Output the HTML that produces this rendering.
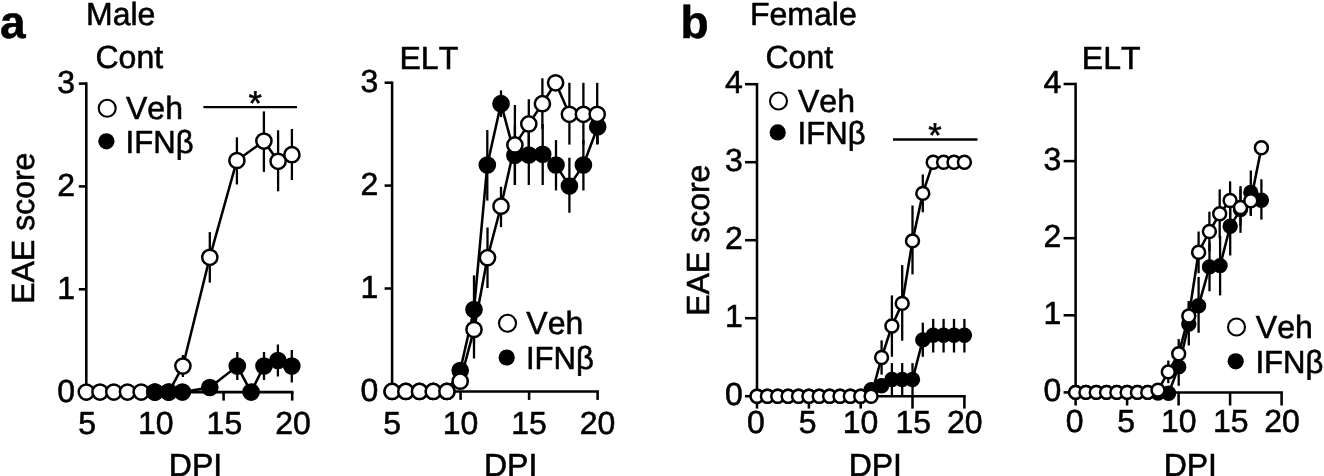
<!DOCTYPE html>
<html lang="en">
<head>
<meta charset="utf-8">
<title>EAE score figure</title>
<style>
html,body{margin:0;padding:0;background:#fff;}
body{width:1324px;height:476px;overflow:hidden;}
svg{display:block;will-change:transform;transform:translateZ(0);}
svg text{font-family:"Liberation Sans","DejaVu Sans",sans-serif;fill:#000;text-rendering:geometricPrecision;font-kerning:none;stroke:#000;stroke-width:0.55px;}
</style>
</head>
<body>
<svg width="1324" height="476" viewBox="0 0 1324 476">
<rect x="0" y="0" width="1324" height="476" fill="#fff"/>
<text x="0.0" y="38.0" font-size="46" text-anchor="start" font-weight="bold" >a</text>
<text x="680.5" y="38.0" font-size="46" text-anchor="start" font-weight="bold" >b</text>
<text x="86.0" y="24.7" font-size="32" text-anchor="start" font-weight="normal" >Male</text>
<text x="95.5" y="68.1" font-size="32" text-anchor="start" font-weight="normal" >Cont</text>
<text x="399.5" y="68.6" font-size="32" text-anchor="start" font-weight="normal" >ELT</text>
<text x="750.0" y="24.5" font-size="32" text-anchor="start" font-weight="normal" >Female</text>
<text x="765.5" y="67.6" font-size="32" text-anchor="start" font-weight="normal" >Cont</text>
<text x="1081.8" y="68.6" font-size="32" text-anchor="start" font-weight="normal" >ELT</text>
<text transform="translate(33.6,228.2) rotate(-90)" font-size="32" text-anchor="middle">EAE score</text>
<text transform="translate(709.1,240.2) rotate(-90)" font-size="32" text-anchor="middle">EAE score</text>
<text x="195.5" y="475.6" font-size="32" text-anchor="middle" font-weight="normal" >DPI</text>
<text x="510.6" y="475.6" font-size="32" text-anchor="middle" font-weight="normal" >DPI</text>
<text x="875.3" y="475.6" font-size="32" text-anchor="middle" font-weight="normal" >DPI</text>
<text x="1190.3" y="475.6" font-size="32" text-anchor="middle" font-weight="normal" >DPI</text>
<line x1="86.3" y1="82.3" x2="86.3" y2="393.4" stroke="#000" stroke-width="2.55"/>
<line x1="86.3" y1="392.1" x2="293.5" y2="392.1" stroke="#000" stroke-width="2.55"/>
<line x1="78.8" y1="392.1" x2="86.3" y2="392.1" stroke="#000" stroke-width="2.55"/>
<text x="75.0" y="401.7" font-size="32" text-anchor="end" font-weight="normal" >0</text>
<line x1="78.8" y1="289.3" x2="86.3" y2="289.3" stroke="#000" stroke-width="2.55"/>
<text x="75.0" y="298.9" font-size="32" text-anchor="end" font-weight="normal" >1</text>
<line x1="78.8" y1="186.4" x2="86.3" y2="186.4" stroke="#000" stroke-width="2.55"/>
<text x="75.0" y="196.0" font-size="32" text-anchor="end" font-weight="normal" >2</text>
<line x1="78.8" y1="83.6" x2="86.3" y2="83.6" stroke="#000" stroke-width="2.55"/>
<text x="75.0" y="93.2" font-size="32" text-anchor="end" font-weight="normal" >3</text>
<line x1="86.3" y1="392.1" x2="86.3" y2="400.6" stroke="#000" stroke-width="2.55"/>
<text x="87.1" y="434.1" font-size="32" text-anchor="middle" font-weight="normal" >5</text>
<line x1="154.9" y1="392.1" x2="154.9" y2="400.6" stroke="#000" stroke-width="2.55"/>
<text x="155.8" y="434.1" font-size="32" text-anchor="middle" font-weight="normal" >10</text>
<line x1="223.6" y1="392.1" x2="223.6" y2="400.6" stroke="#000" stroke-width="2.55"/>
<text x="224.4" y="434.1" font-size="32" text-anchor="middle" font-weight="normal" >15</text>
<line x1="292.2" y1="392.1" x2="292.2" y2="400.6" stroke="#000" stroke-width="2.55"/>
<text x="293.1" y="434.1" font-size="32" text-anchor="middle" font-weight="normal" >20</text>
<line x1="182.9" y1="355.0" x2="182.9" y2="377.0" stroke="#000" stroke-width="2.3"/>
<line x1="209.8" y1="232.1" x2="209.8" y2="282.6" stroke="#000" stroke-width="2.3"/>
<line x1="236.9" y1="137.3" x2="236.9" y2="184.5" stroke="#000" stroke-width="2.3"/>
<line x1="263.9" y1="111.4" x2="263.9" y2="171.9" stroke="#000" stroke-width="2.3"/>
<line x1="278.1" y1="130.3" x2="278.1" y2="191.3" stroke="#000" stroke-width="2.3"/>
<line x1="291.9" y1="129.0" x2="291.9" y2="180.0" stroke="#000" stroke-width="2.3"/>
<polyline points="86.3,392.1 100.0,392.1 113.8,392.1 127.5,392.1 141.2,392.1 154.9,392.1 168.7,392.1 182.9,366.1 209.8,257.3 236.9,160.5 263.9,141.1 278.1,161.3 291.9,154.7" fill="none" stroke="#000" stroke-width="2.55"/>
<circle cx="86.3" cy="392.1" r="7.6" fill="#fff" stroke="#000" stroke-width="2.5"/>
<circle cx="100.0" cy="392.1" r="7.6" fill="#fff" stroke="#000" stroke-width="2.5"/>
<circle cx="113.8" cy="392.1" r="7.6" fill="#fff" stroke="#000" stroke-width="2.5"/>
<circle cx="127.5" cy="392.1" r="7.6" fill="#fff" stroke="#000" stroke-width="2.5"/>
<circle cx="141.2" cy="392.1" r="7.6" fill="#fff" stroke="#000" stroke-width="2.5"/>
<circle cx="154.9" cy="392.1" r="7.6" fill="#fff" stroke="#000" stroke-width="2.5"/>
<circle cx="168.7" cy="392.1" r="7.6" fill="#fff" stroke="#000" stroke-width="2.5"/>
<circle cx="182.9" cy="366.1" r="7.6" fill="#fff" stroke="#000" stroke-width="2.5"/>
<circle cx="209.8" cy="257.3" r="7.6" fill="#fff" stroke="#000" stroke-width="2.5"/>
<circle cx="236.9" cy="160.5" r="7.6" fill="#fff" stroke="#000" stroke-width="2.5"/>
<circle cx="263.9" cy="141.1" r="7.6" fill="#fff" stroke="#000" stroke-width="2.5"/>
<circle cx="278.1" cy="161.3" r="7.6" fill="#fff" stroke="#000" stroke-width="2.5"/>
<circle cx="291.9" cy="154.7" r="7.6" fill="#fff" stroke="#000" stroke-width="2.5"/>
<line x1="237.3" y1="352.0" x2="237.3" y2="380.0" stroke="#000" stroke-width="2.3"/>
<line x1="264.0" y1="352.0" x2="264.0" y2="380.0" stroke="#000" stroke-width="2.3"/>
<line x1="277.9" y1="344.5" x2="277.9" y2="376.5" stroke="#000" stroke-width="2.3"/>
<line x1="291.8" y1="350.0" x2="291.8" y2="382.5" stroke="#000" stroke-width="2.3"/>
<polyline points="154.9,392.1 168.7,392.1 182.4,392.1 209.8,387.5 237.3,366.1 251.1,392.1 264.0,366.0 277.9,360.5 291.8,366.1" fill="none" stroke="#000" stroke-width="2.55"/>
<circle cx="154.9" cy="392.1" r="7.6" fill="#000" stroke="#000" stroke-width="2.5"/>
<circle cx="168.7" cy="392.1" r="7.6" fill="#000" stroke="#000" stroke-width="2.5"/>
<circle cx="182.4" cy="392.1" r="7.6" fill="#000" stroke="#000" stroke-width="2.5"/>
<circle cx="209.8" cy="387.5" r="7.6" fill="#000" stroke="#000" stroke-width="2.5"/>
<circle cx="237.3" cy="366.1" r="7.6" fill="#000" stroke="#000" stroke-width="2.5"/>
<circle cx="251.1" cy="392.1" r="7.6" fill="#000" stroke="#000" stroke-width="2.5"/>
<circle cx="264.0" cy="366.0" r="7.6" fill="#000" stroke="#000" stroke-width="2.5"/>
<circle cx="277.9" cy="360.5" r="7.6" fill="#000" stroke="#000" stroke-width="2.5"/>
<circle cx="291.8" cy="366.1" r="7.6" fill="#000" stroke="#000" stroke-width="2.5"/>
<circle cx="107.2" cy="108.2" r="8.5" fill="#fff" stroke="#000" stroke-width="2.1"/>
<circle cx="106.4" cy="141.3" r="8.1" fill="#000"/>
<text x="126.0" y="119.4" font-size="32" text-anchor="start" font-weight="normal" >Veh</text>
<text transform="translate(125.6,152.5) scale(0.972,1)" font-size="32">IFNβ</text>
<line x1="203.4" y1="107.1" x2="297.0" y2="107.1" stroke="#000" stroke-width="2.4"/>
<text x="255.2" y="115.2" font-size="34.5" text-anchor="middle" font-weight="normal" >*</text>
<line x1="392.1" y1="81.4" x2="392.1" y2="392.7" stroke="#000" stroke-width="2.55"/>
<line x1="392.1" y1="391.4" x2="598.9" y2="391.4" stroke="#000" stroke-width="2.55"/>
<line x1="384.6" y1="391.4" x2="392.1" y2="391.4" stroke="#000" stroke-width="2.55"/>
<text x="378.4" y="401.0" font-size="32" text-anchor="end" font-weight="normal" >0</text>
<line x1="384.6" y1="288.5" x2="392.1" y2="288.5" stroke="#000" stroke-width="2.55"/>
<text x="378.4" y="298.1" font-size="32" text-anchor="end" font-weight="normal" >1</text>
<line x1="384.6" y1="185.6" x2="392.1" y2="185.6" stroke="#000" stroke-width="2.55"/>
<text x="378.4" y="195.2" font-size="32" text-anchor="end" font-weight="normal" >2</text>
<line x1="384.6" y1="82.7" x2="392.1" y2="82.7" stroke="#000" stroke-width="2.55"/>
<text x="378.4" y="92.3" font-size="32" text-anchor="end" font-weight="normal" >3</text>
<line x1="392.1" y1="391.4" x2="392.1" y2="399.9" stroke="#000" stroke-width="2.55"/>
<text x="392.1" y="434.1" font-size="32" text-anchor="middle" font-weight="normal" >5</text>
<line x1="460.6" y1="391.4" x2="460.6" y2="399.9" stroke="#000" stroke-width="2.55"/>
<text x="460.6" y="434.1" font-size="32" text-anchor="middle" font-weight="normal" >10</text>
<line x1="529.1" y1="391.4" x2="529.1" y2="399.9" stroke="#000" stroke-width="2.55"/>
<text x="529.1" y="434.1" font-size="32" text-anchor="middle" font-weight="normal" >15</text>
<line x1="597.6" y1="391.4" x2="597.6" y2="399.9" stroke="#000" stroke-width="2.55"/>
<text x="597.6" y="434.1" font-size="32" text-anchor="middle" font-weight="normal" >20</text>
<line x1="474.0" y1="275.4" x2="474.0" y2="343.6" stroke="#000" stroke-width="2.3"/>
<line x1="487.3" y1="130.0" x2="487.3" y2="200.6" stroke="#000" stroke-width="2.3"/>
<line x1="501.0" y1="90.4" x2="501.0" y2="117.0" stroke="#000" stroke-width="2.3"/>
<line x1="514.9" y1="125.6" x2="514.9" y2="185.0" stroke="#000" stroke-width="2.3"/>
<line x1="528.8" y1="125.0" x2="528.8" y2="185.0" stroke="#000" stroke-width="2.3"/>
<line x1="542.7" y1="124.0" x2="542.7" y2="185.0" stroke="#000" stroke-width="2.3"/>
<line x1="556.0" y1="140.1" x2="556.0" y2="190.5" stroke="#000" stroke-width="2.3"/>
<line x1="569.4" y1="157.7" x2="569.4" y2="212.7" stroke="#000" stroke-width="2.3"/>
<line x1="583.4" y1="140.0" x2="583.4" y2="190.5" stroke="#000" stroke-width="2.3"/>
<line x1="597.7" y1="110.0" x2="597.7" y2="144.0" stroke="#000" stroke-width="2.3"/>
<polyline points="392.1,391.4 405.8,391.4 419.5,391.4 433.2,391.4 446.9,391.4 460.2,370.6 474.0,309.5 487.3,165.0 501.0,103.7 514.9,155.3 528.8,155.0 542.7,154.3 556.0,165.0 569.4,186.0 583.4,165.0 597.7,126.8" fill="none" stroke="#000" stroke-width="2.55"/>
<circle cx="392.1" cy="391.4" r="7.6" fill="#000" stroke="#000" stroke-width="2.5"/>
<circle cx="405.8" cy="391.4" r="7.6" fill="#000" stroke="#000" stroke-width="2.5"/>
<circle cx="419.5" cy="391.4" r="7.6" fill="#000" stroke="#000" stroke-width="2.5"/>
<circle cx="433.2" cy="391.4" r="7.6" fill="#000" stroke="#000" stroke-width="2.5"/>
<circle cx="446.9" cy="391.4" r="7.6" fill="#000" stroke="#000" stroke-width="2.5"/>
<circle cx="460.2" cy="370.6" r="7.6" fill="#000" stroke="#000" stroke-width="2.5"/>
<circle cx="474.0" cy="309.5" r="7.6" fill="#000" stroke="#000" stroke-width="2.5"/>
<circle cx="487.3" cy="165.0" r="7.6" fill="#000" stroke="#000" stroke-width="2.5"/>
<circle cx="501.0" cy="103.7" r="7.6" fill="#000" stroke="#000" stroke-width="2.5"/>
<circle cx="514.9" cy="155.3" r="7.6" fill="#000" stroke="#000" stroke-width="2.5"/>
<circle cx="528.8" cy="155.0" r="7.6" fill="#000" stroke="#000" stroke-width="2.5"/>
<circle cx="542.7" cy="154.3" r="7.6" fill="#000" stroke="#000" stroke-width="2.5"/>
<circle cx="556.0" cy="165.0" r="7.6" fill="#000" stroke="#000" stroke-width="2.5"/>
<circle cx="569.4" cy="186.0" r="7.6" fill="#000" stroke="#000" stroke-width="2.5"/>
<circle cx="583.4" cy="165.0" r="7.6" fill="#000" stroke="#000" stroke-width="2.5"/>
<circle cx="597.7" cy="126.8" r="7.6" fill="#000" stroke="#000" stroke-width="2.5"/>
<line x1="474.0" y1="300.5" x2="474.0" y2="358.5" stroke="#000" stroke-width="2.3"/>
<line x1="487.5" y1="227.5" x2="487.5" y2="288.0" stroke="#000" stroke-width="2.3"/>
<line x1="501.0" y1="186.8" x2="501.0" y2="227.1" stroke="#000" stroke-width="2.3"/>
<line x1="514.9" y1="105.0" x2="514.9" y2="185.0" stroke="#000" stroke-width="2.3"/>
<line x1="528.8" y1="99.2" x2="528.8" y2="148.6" stroke="#000" stroke-width="2.3"/>
<line x1="542.4" y1="78.3" x2="542.4" y2="129.0" stroke="#000" stroke-width="2.3"/>
<line x1="569.4" y1="82.8" x2="569.4" y2="144.6" stroke="#000" stroke-width="2.3"/>
<line x1="583.4" y1="82.8" x2="583.4" y2="144.6" stroke="#000" stroke-width="2.3"/>
<line x1="597.2" y1="82.8" x2="597.2" y2="144.6" stroke="#000" stroke-width="2.3"/>
<polyline points="392.1,391.4 405.8,391.4 419.5,391.4 433.2,391.4 446.9,391.4 460.2,381.2 474.0,329.5 487.5,257.7 501.0,206.2 514.9,144.9 528.8,123.9 542.4,103.7 555.6,82.8 569.4,114.3 583.4,114.3 597.2,114.3" fill="none" stroke="#000" stroke-width="2.55"/>
<circle cx="392.1" cy="391.4" r="7.6" fill="#fff" stroke="#000" stroke-width="2.5"/>
<circle cx="405.8" cy="391.4" r="7.6" fill="#fff" stroke="#000" stroke-width="2.5"/>
<circle cx="419.5" cy="391.4" r="7.6" fill="#fff" stroke="#000" stroke-width="2.5"/>
<circle cx="433.2" cy="391.4" r="7.6" fill="#fff" stroke="#000" stroke-width="2.5"/>
<circle cx="446.9" cy="391.4" r="7.6" fill="#fff" stroke="#000" stroke-width="2.5"/>
<circle cx="460.2" cy="381.2" r="7.6" fill="#fff" stroke="#000" stroke-width="2.5"/>
<circle cx="474.0" cy="329.5" r="7.6" fill="#fff" stroke="#000" stroke-width="2.5"/>
<circle cx="487.5" cy="257.7" r="7.6" fill="#fff" stroke="#000" stroke-width="2.5"/>
<circle cx="501.0" cy="206.2" r="7.6" fill="#fff" stroke="#000" stroke-width="2.5"/>
<circle cx="514.9" cy="144.9" r="7.6" fill="#fff" stroke="#000" stroke-width="2.5"/>
<circle cx="528.8" cy="123.9" r="7.6" fill="#fff" stroke="#000" stroke-width="2.5"/>
<circle cx="542.4" cy="103.7" r="7.6" fill="#fff" stroke="#000" stroke-width="2.5"/>
<circle cx="555.6" cy="82.8" r="7.6" fill="#fff" stroke="#000" stroke-width="2.5"/>
<circle cx="569.4" cy="114.3" r="7.6" fill="#fff" stroke="#000" stroke-width="2.5"/>
<circle cx="583.4" cy="114.3" r="7.6" fill="#fff" stroke="#000" stroke-width="2.5"/>
<circle cx="597.2" cy="114.3" r="7.6" fill="#fff" stroke="#000" stroke-width="2.5"/>
<circle cx="507.5" cy="323.2" r="8.5" fill="#fff" stroke="#000" stroke-width="2.1"/>
<circle cx="506.7" cy="357.5" r="8.1" fill="#000"/>
<text x="526.3" y="334.4" font-size="32" text-anchor="start" font-weight="normal" >Veh</text>
<text transform="translate(525.9,368.7) scale(0.972,1)" font-size="32">IFNβ</text>
<line x1="757.0" y1="82.9" x2="757.0" y2="397.5" stroke="#000" stroke-width="2.55"/>
<line x1="757.0" y1="396.2" x2="965.7" y2="396.2" stroke="#000" stroke-width="2.55"/>
<line x1="745.0" y1="396.2" x2="757.0" y2="396.2" stroke="#000" stroke-width="2.55"/>
<text x="742.9" y="405.3" font-size="32" text-anchor="end" font-weight="normal" >0</text>
<line x1="745.0" y1="318.2" x2="757.0" y2="318.2" stroke="#000" stroke-width="2.55"/>
<text x="742.9" y="327.3" font-size="32" text-anchor="end" font-weight="normal" >1</text>
<line x1="745.0" y1="240.2" x2="757.0" y2="240.2" stroke="#000" stroke-width="2.55"/>
<text x="742.9" y="249.3" font-size="32" text-anchor="end" font-weight="normal" >2</text>
<line x1="745.0" y1="162.2" x2="757.0" y2="162.2" stroke="#000" stroke-width="2.55"/>
<text x="742.9" y="171.3" font-size="32" text-anchor="end" font-weight="normal" >3</text>
<line x1="745.0" y1="84.2" x2="757.0" y2="84.2" stroke="#000" stroke-width="2.55"/>
<text x="742.9" y="93.3" font-size="32" text-anchor="end" font-weight="normal" >4</text>
<line x1="757.0" y1="396.2" x2="757.0" y2="408.6" stroke="#000" stroke-width="2.55"/>
<text x="755.8" y="432.5" font-size="32" text-anchor="middle" font-weight="normal" >0</text>
<line x1="808.9" y1="396.2" x2="808.9" y2="408.6" stroke="#000" stroke-width="2.55"/>
<text x="807.6" y="432.5" font-size="32" text-anchor="middle" font-weight="normal" >5</text>
<line x1="860.7" y1="396.2" x2="860.7" y2="408.6" stroke="#000" stroke-width="2.55"/>
<text x="860.5" y="432.5" font-size="32" text-anchor="middle" font-weight="normal" >10</text>
<line x1="912.5" y1="396.2" x2="912.5" y2="408.6" stroke="#000" stroke-width="2.55"/>
<text x="913.3" y="432.5" font-size="32" text-anchor="middle" font-weight="normal" >15</text>
<line x1="964.4" y1="396.2" x2="964.4" y2="408.6" stroke="#000" stroke-width="2.55"/>
<text x="964.7" y="432.5" font-size="32" text-anchor="middle" font-weight="normal" >20</text>
<line x1="891.9" y1="363.1" x2="891.9" y2="395.9" stroke="#000" stroke-width="2.3"/>
<line x1="902.2" y1="363.1" x2="902.2" y2="395.9" stroke="#000" stroke-width="2.3"/>
<line x1="912.5" y1="363.1" x2="912.5" y2="395.9" stroke="#000" stroke-width="2.3"/>
<line x1="922.8" y1="322.7" x2="922.8" y2="356.8" stroke="#000" stroke-width="2.3"/>
<line x1="933.2" y1="318.9" x2="933.2" y2="352.5" stroke="#000" stroke-width="2.3"/>
<line x1="943.6" y1="318.9" x2="943.6" y2="352.5" stroke="#000" stroke-width="2.3"/>
<line x1="954.0" y1="318.9" x2="954.0" y2="352.5" stroke="#000" stroke-width="2.3"/>
<line x1="964.4" y1="318.9" x2="964.4" y2="352.5" stroke="#000" stroke-width="2.3"/>
<polyline points="757.0,396.2 767.4,396.2 777.7,396.2 788.1,396.2 798.5,396.2 808.9,396.2 819.2,396.2 829.6,396.2 840.0,396.2 850.3,396.2 860.7,396.2 871.2,389.6 881.6,385.8 891.9,379.5 902.2,379.5 912.5,379.5 922.8,339.9 933.2,335.3 943.6,335.3 954.0,335.3 964.4,335.3" fill="none" stroke="#000" stroke-width="2.55"/>
<circle cx="757.0" cy="396.2" r="6.45" fill="#000" stroke="#000" stroke-width="2.5"/>
<circle cx="767.4" cy="396.2" r="6.45" fill="#000" stroke="#000" stroke-width="2.5"/>
<circle cx="777.7" cy="396.2" r="6.45" fill="#000" stroke="#000" stroke-width="2.5"/>
<circle cx="788.1" cy="396.2" r="6.45" fill="#000" stroke="#000" stroke-width="2.5"/>
<circle cx="798.5" cy="396.2" r="6.45" fill="#000" stroke="#000" stroke-width="2.5"/>
<circle cx="808.9" cy="396.2" r="6.45" fill="#000" stroke="#000" stroke-width="2.5"/>
<circle cx="819.2" cy="396.2" r="6.45" fill="#000" stroke="#000" stroke-width="2.5"/>
<circle cx="829.6" cy="396.2" r="6.45" fill="#000" stroke="#000" stroke-width="2.5"/>
<circle cx="840.0" cy="396.2" r="6.45" fill="#000" stroke="#000" stroke-width="2.5"/>
<circle cx="850.3" cy="396.2" r="6.45" fill="#000" stroke="#000" stroke-width="2.5"/>
<circle cx="860.7" cy="396.2" r="6.45" fill="#000" stroke="#000" stroke-width="2.5"/>
<circle cx="871.2" cy="389.6" r="6.45" fill="#000" stroke="#000" stroke-width="2.5"/>
<circle cx="881.6" cy="385.8" r="6.45" fill="#000" stroke="#000" stroke-width="2.5"/>
<circle cx="891.9" cy="379.5" r="6.45" fill="#000" stroke="#000" stroke-width="2.5"/>
<circle cx="902.2" cy="379.5" r="6.45" fill="#000" stroke="#000" stroke-width="2.5"/>
<circle cx="912.5" cy="379.5" r="6.45" fill="#000" stroke="#000" stroke-width="2.5"/>
<circle cx="922.8" cy="339.9" r="6.45" fill="#000" stroke="#000" stroke-width="2.5"/>
<circle cx="933.2" cy="335.3" r="6.45" fill="#000" stroke="#000" stroke-width="2.5"/>
<circle cx="943.6" cy="335.3" r="6.45" fill="#000" stroke="#000" stroke-width="2.5"/>
<circle cx="954.0" cy="335.3" r="6.45" fill="#000" stroke="#000" stroke-width="2.5"/>
<circle cx="964.4" cy="335.3" r="6.45" fill="#000" stroke="#000" stroke-width="2.5"/>
<line x1="881.6" y1="340.4" x2="881.6" y2="374.6" stroke="#000" stroke-width="2.3"/>
<line x1="891.9" y1="295.4" x2="891.9" y2="356.8" stroke="#000" stroke-width="2.3"/>
<line x1="902.2" y1="265.1" x2="902.2" y2="340.7" stroke="#000" stroke-width="2.3"/>
<line x1="912.5" y1="205.5" x2="912.5" y2="274.4" stroke="#000" stroke-width="2.3"/>
<line x1="922.8" y1="174.5" x2="922.8" y2="212.3" stroke="#000" stroke-width="2.3"/>
<polyline points="757.0,396.2 767.4,396.2 777.7,396.2 788.1,396.2 798.5,396.2 808.9,396.2 819.2,396.2 829.6,396.2 840.0,396.2 850.3,396.2 860.7,396.2 871.1,396.2 881.6,357.5 891.9,326.0 902.2,303.4 912.5,240.9 922.8,193.4 933.2,162.2 943.6,162.2 954.0,162.2 964.4,162.2" fill="none" stroke="#000" stroke-width="2.55"/>
<circle cx="757.0" cy="396.2" r="6.45" fill="#fff" stroke="#000" stroke-width="2.5"/>
<circle cx="767.4" cy="396.2" r="6.45" fill="#fff" stroke="#000" stroke-width="2.5"/>
<circle cx="777.7" cy="396.2" r="6.45" fill="#fff" stroke="#000" stroke-width="2.5"/>
<circle cx="788.1" cy="396.2" r="6.45" fill="#fff" stroke="#000" stroke-width="2.5"/>
<circle cx="798.5" cy="396.2" r="6.45" fill="#fff" stroke="#000" stroke-width="2.5"/>
<circle cx="808.9" cy="396.2" r="6.45" fill="#fff" stroke="#000" stroke-width="2.5"/>
<circle cx="819.2" cy="396.2" r="6.45" fill="#fff" stroke="#000" stroke-width="2.5"/>
<circle cx="829.6" cy="396.2" r="6.45" fill="#fff" stroke="#000" stroke-width="2.5"/>
<circle cx="840.0" cy="396.2" r="6.45" fill="#fff" stroke="#000" stroke-width="2.5"/>
<circle cx="850.3" cy="396.2" r="6.45" fill="#fff" stroke="#000" stroke-width="2.5"/>
<circle cx="860.7" cy="396.2" r="6.45" fill="#fff" stroke="#000" stroke-width="2.5"/>
<circle cx="871.1" cy="396.2" r="6.45" fill="#fff" stroke="#000" stroke-width="2.5"/>
<circle cx="881.6" cy="357.5" r="6.45" fill="#fff" stroke="#000" stroke-width="2.5"/>
<circle cx="891.9" cy="326.0" r="6.45" fill="#fff" stroke="#000" stroke-width="2.5"/>
<circle cx="902.2" cy="303.4" r="6.45" fill="#fff" stroke="#000" stroke-width="2.5"/>
<circle cx="912.5" cy="240.9" r="6.45" fill="#fff" stroke="#000" stroke-width="2.5"/>
<circle cx="922.8" cy="193.4" r="6.45" fill="#fff" stroke="#000" stroke-width="2.5"/>
<circle cx="933.2" cy="162.2" r="6.45" fill="#fff" stroke="#000" stroke-width="2.5"/>
<circle cx="943.6" cy="162.2" r="6.45" fill="#fff" stroke="#000" stroke-width="2.5"/>
<circle cx="954.0" cy="162.2" r="6.45" fill="#fff" stroke="#000" stroke-width="2.5"/>
<circle cx="964.4" cy="162.2" r="6.45" fill="#fff" stroke="#000" stroke-width="2.5"/>
<circle cx="778.5" cy="101.0" r="8.5" fill="#fff" stroke="#000" stroke-width="2.1"/>
<circle cx="777.7" cy="132.4" r="8.1" fill="#000"/>
<text x="798.0" y="112.2" font-size="32" text-anchor="start" font-weight="normal" >Veh</text>
<text transform="translate(797.6,143.6) scale(0.972,1)" font-size="32">IFNβ</text>
<line x1="893.0" y1="139.5" x2="977.5" y2="139.5" stroke="#000" stroke-width="2.4"/>
<text x="934.9" y="147.3" font-size="34.5" text-anchor="middle" font-weight="normal" >*</text>
<line x1="1075.6" y1="82.7" x2="1075.6" y2="393.7" stroke="#000" stroke-width="2.55"/>
<line x1="1075.6" y1="392.4" x2="1282.9" y2="392.4" stroke="#000" stroke-width="2.55"/>
<line x1="1063.6" y1="392.4" x2="1075.6" y2="392.4" stroke="#000" stroke-width="2.55"/>
<text x="1061.3" y="401.2" font-size="32" text-anchor="end" font-weight="normal" >0</text>
<line x1="1063.6" y1="315.3" x2="1075.6" y2="315.3" stroke="#000" stroke-width="2.55"/>
<text x="1061.3" y="324.1" font-size="32" text-anchor="end" font-weight="normal" >1</text>
<line x1="1063.6" y1="238.2" x2="1075.6" y2="238.2" stroke="#000" stroke-width="2.55"/>
<text x="1061.3" y="247.0" font-size="32" text-anchor="end" font-weight="normal" >2</text>
<line x1="1063.6" y1="161.1" x2="1075.6" y2="161.1" stroke="#000" stroke-width="2.55"/>
<text x="1061.3" y="169.9" font-size="32" text-anchor="end" font-weight="normal" >3</text>
<line x1="1063.6" y1="84.0" x2="1075.6" y2="84.0" stroke="#000" stroke-width="2.55"/>
<text x="1061.3" y="92.8" font-size="32" text-anchor="end" font-weight="normal" >4</text>
<line x1="1075.6" y1="392.4" x2="1075.6" y2="405.5" stroke="#000" stroke-width="2.55"/>
<text x="1074.6" y="432.1" font-size="32" text-anchor="middle" font-weight="normal" >0</text>
<line x1="1127.1" y1="392.4" x2="1127.1" y2="405.5" stroke="#000" stroke-width="2.55"/>
<text x="1126.1" y="432.1" font-size="32" text-anchor="middle" font-weight="normal" >5</text>
<line x1="1178.6" y1="392.4" x2="1178.6" y2="405.5" stroke="#000" stroke-width="2.55"/>
<text x="1178.8" y="432.1" font-size="32" text-anchor="middle" font-weight="normal" >10</text>
<line x1="1230.1" y1="392.4" x2="1230.1" y2="405.5" stroke="#000" stroke-width="2.55"/>
<text x="1230.7" y="432.1" font-size="32" text-anchor="middle" font-weight="normal" >15</text>
<line x1="1281.6" y1="392.4" x2="1281.6" y2="405.5" stroke="#000" stroke-width="2.55"/>
<text x="1282.1" y="432.1" font-size="32" text-anchor="middle" font-weight="normal" >20</text>
<line x1="1178.7" y1="348.0" x2="1178.7" y2="385.8" stroke="#000" stroke-width="2.3"/>
<line x1="1188.8" y1="302.6" x2="1188.8" y2="345.4" stroke="#000" stroke-width="2.3"/>
<line x1="1198.6" y1="277.0" x2="1198.6" y2="332.8" stroke="#000" stroke-width="2.3"/>
<line x1="1209.5" y1="242.5" x2="1209.5" y2="291.3" stroke="#000" stroke-width="2.3"/>
<line x1="1220.1" y1="235.8" x2="1220.1" y2="295.4" stroke="#000" stroke-width="2.3"/>
<line x1="1230.2" y1="196.5" x2="1230.2" y2="255.5" stroke="#000" stroke-width="2.3"/>
<line x1="1240.5" y1="186.1" x2="1240.5" y2="232.8" stroke="#000" stroke-width="2.3"/>
<line x1="1250.8" y1="170.5" x2="1250.8" y2="214.4" stroke="#000" stroke-width="2.3"/>
<line x1="1261.4" y1="179.3" x2="1261.4" y2="219.6" stroke="#000" stroke-width="2.3"/>
<polyline points="1075.6,392.4 1085.9,392.4 1096.2,392.4 1106.5,392.4 1116.8,392.4 1127.1,392.4 1137.4,392.4 1147.7,392.4 1158.0,393.0 1168.6,393.2 1178.7,366.9 1188.8,324.0 1198.6,305.7 1209.5,266.9 1220.1,265.6 1230.2,226.2 1240.5,209.6 1250.8,192.4 1261.4,200.2" fill="none" stroke="#000" stroke-width="2.55"/>
<circle cx="1075.6" cy="392.4" r="6.45" fill="#000" stroke="#000" stroke-width="2.5"/>
<circle cx="1085.9" cy="392.4" r="6.45" fill="#000" stroke="#000" stroke-width="2.5"/>
<circle cx="1096.2" cy="392.4" r="6.45" fill="#000" stroke="#000" stroke-width="2.5"/>
<circle cx="1106.5" cy="392.4" r="6.45" fill="#000" stroke="#000" stroke-width="2.5"/>
<circle cx="1116.8" cy="392.4" r="6.45" fill="#000" stroke="#000" stroke-width="2.5"/>
<circle cx="1127.1" cy="392.4" r="6.45" fill="#000" stroke="#000" stroke-width="2.5"/>
<circle cx="1137.4" cy="392.4" r="6.45" fill="#000" stroke="#000" stroke-width="2.5"/>
<circle cx="1147.7" cy="392.4" r="6.45" fill="#000" stroke="#000" stroke-width="2.5"/>
<circle cx="1158.0" cy="393.0" r="6.45" fill="#000" stroke="#000" stroke-width="2.5"/>
<circle cx="1168.6" cy="393.2" r="6.45" fill="#000" stroke="#000" stroke-width="2.5"/>
<circle cx="1178.7" cy="366.9" r="6.45" fill="#000" stroke="#000" stroke-width="2.5"/>
<circle cx="1188.8" cy="324.0" r="6.45" fill="#000" stroke="#000" stroke-width="2.5"/>
<circle cx="1198.6" cy="305.7" r="6.45" fill="#000" stroke="#000" stroke-width="2.5"/>
<circle cx="1209.5" cy="266.9" r="6.45" fill="#000" stroke="#000" stroke-width="2.5"/>
<circle cx="1220.1" cy="265.6" r="6.45" fill="#000" stroke="#000" stroke-width="2.5"/>
<circle cx="1230.2" cy="226.2" r="6.45" fill="#000" stroke="#000" stroke-width="2.5"/>
<circle cx="1240.5" cy="209.6" r="6.45" fill="#000" stroke="#000" stroke-width="2.5"/>
<circle cx="1250.8" cy="192.4" r="6.45" fill="#000" stroke="#000" stroke-width="2.5"/>
<circle cx="1261.4" cy="200.2" r="6.45" fill="#000" stroke="#000" stroke-width="2.5"/>
<line x1="1168.3" y1="360.5" x2="1168.3" y2="383.2" stroke="#000" stroke-width="2.3"/>
<line x1="1178.7" y1="339.1" x2="1178.7" y2="368.3" stroke="#000" stroke-width="2.3"/>
<line x1="1188.8" y1="301.0" x2="1188.8" y2="331.0" stroke="#000" stroke-width="2.3"/>
<line x1="1198.6" y1="231.5" x2="1198.6" y2="273.2" stroke="#000" stroke-width="2.3"/>
<line x1="1209.4" y1="211.7" x2="1209.4" y2="251.3" stroke="#000" stroke-width="2.3"/>
<line x1="1219.7" y1="189.4" x2="1219.7" y2="238.2" stroke="#000" stroke-width="2.3"/>
<line x1="1230.1" y1="181.3" x2="1230.1" y2="219.7" stroke="#000" stroke-width="2.3"/>
<line x1="1240.5" y1="189.0" x2="1240.5" y2="226.0" stroke="#000" stroke-width="2.3"/>
<line x1="1250.8" y1="185.0" x2="1250.8" y2="216.0" stroke="#000" stroke-width="2.3"/>
<polyline points="1075.6,392.4 1085.9,392.4 1096.2,392.4 1106.5,392.4 1116.8,392.4 1127.1,392.4 1137.4,392.4 1147.7,392.4 1158.0,390.1 1168.3,371.9 1178.7,353.7 1188.8,316.0 1198.6,252.2 1209.4,231.5 1219.7,213.8 1230.1,200.5 1240.5,207.5 1250.8,200.7 1261.4,147.7" fill="none" stroke="#000" stroke-width="2.55"/>
<circle cx="1075.6" cy="392.4" r="6.45" fill="#fff" stroke="#000" stroke-width="2.5"/>
<circle cx="1085.9" cy="392.4" r="6.45" fill="#fff" stroke="#000" stroke-width="2.5"/>
<circle cx="1096.2" cy="392.4" r="6.45" fill="#fff" stroke="#000" stroke-width="2.5"/>
<circle cx="1106.5" cy="392.4" r="6.45" fill="#fff" stroke="#000" stroke-width="2.5"/>
<circle cx="1116.8" cy="392.4" r="6.45" fill="#fff" stroke="#000" stroke-width="2.5"/>
<circle cx="1127.1" cy="392.4" r="6.45" fill="#fff" stroke="#000" stroke-width="2.5"/>
<circle cx="1137.4" cy="392.4" r="6.45" fill="#fff" stroke="#000" stroke-width="2.5"/>
<circle cx="1147.7" cy="392.4" r="6.45" fill="#fff" stroke="#000" stroke-width="2.5"/>
<circle cx="1158.0" cy="390.1" r="6.45" fill="#fff" stroke="#000" stroke-width="2.5"/>
<circle cx="1168.3" cy="371.9" r="6.45" fill="#fff" stroke="#000" stroke-width="2.5"/>
<circle cx="1178.7" cy="353.7" r="6.45" fill="#fff" stroke="#000" stroke-width="2.5"/>
<circle cx="1188.8" cy="316.0" r="6.45" fill="#fff" stroke="#000" stroke-width="2.5"/>
<circle cx="1198.6" cy="252.2" r="6.45" fill="#fff" stroke="#000" stroke-width="2.5"/>
<circle cx="1209.4" cy="231.5" r="6.45" fill="#fff" stroke="#000" stroke-width="2.5"/>
<circle cx="1219.7" cy="213.8" r="6.45" fill="#fff" stroke="#000" stroke-width="2.5"/>
<circle cx="1230.1" cy="200.5" r="6.45" fill="#fff" stroke="#000" stroke-width="2.5"/>
<circle cx="1240.5" cy="207.5" r="6.45" fill="#fff" stroke="#000" stroke-width="2.5"/>
<circle cx="1250.8" cy="200.7" r="6.45" fill="#fff" stroke="#000" stroke-width="2.5"/>
<circle cx="1261.4" cy="147.7" r="6.45" fill="#fff" stroke="#000" stroke-width="2.5"/>
<circle cx="1236.5" cy="327.0" r="8.5" fill="#fff" stroke="#000" stroke-width="2.1"/>
<circle cx="1235.7" cy="361.3" r="8.1" fill="#000"/>
<text x="1255.8" y="338.2" font-size="32" text-anchor="start" font-weight="normal" >Veh</text>
<text transform="translate(1255.4,372.5) scale(0.972,1)" font-size="32">IFNβ</text>
</svg>
</body>
</html>
